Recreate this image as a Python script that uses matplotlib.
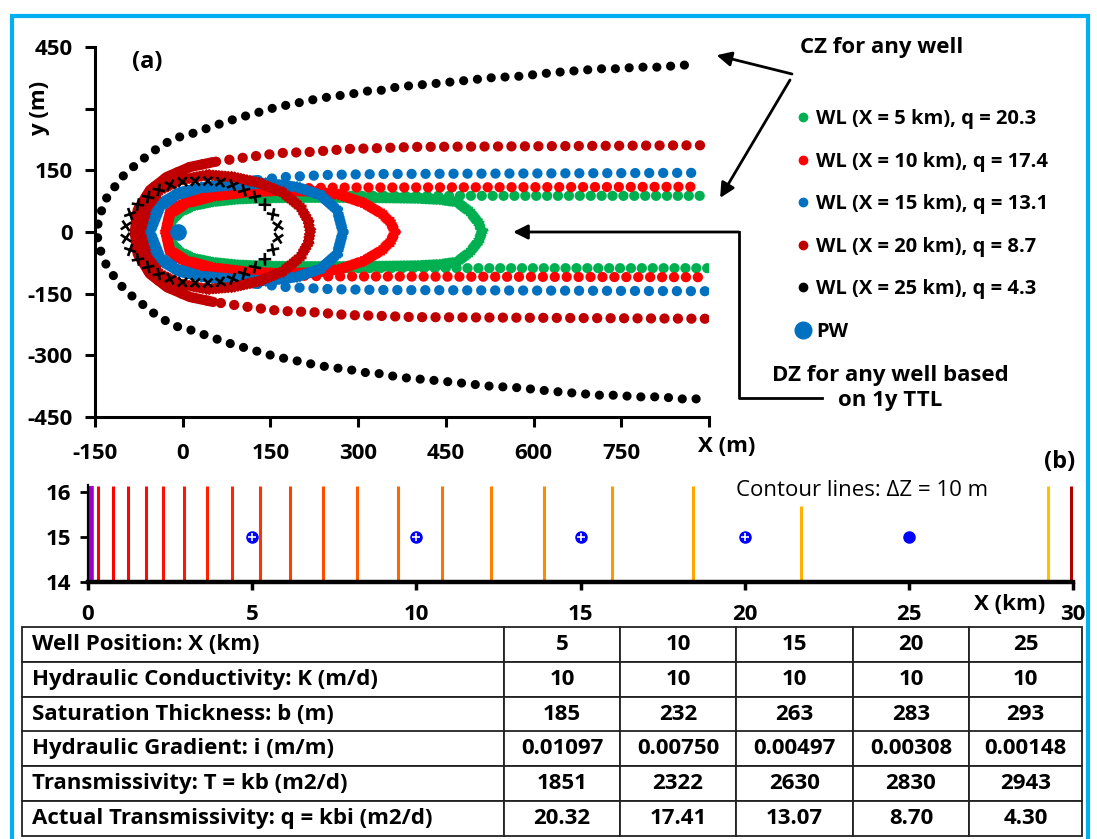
import numpy as np
import matplotlib
matplotlib.use('Agg')
import matplotlib.pyplot as plt
from matplotlib import patheffects
from matplotlib.lines import Line2D
from matplotlib.patches import Rectangle
from matplotlib.table import Table

plt.rcParams['font.family'] = ['Open Sans', 'DejaVu Sans']
plt.rcParams['font.weight'] = 'bold'

# ---------------- panel (a): capture zones, upper half (y >= 0)
labels_a = ['WL (X = 5 km), q = 20.3', 'WL (X = 10 km), q = 17.4', 'WL (X = 15 km), q = 13.1',
            'WL (X = 20 km), q = 8.7', 'WL (X = 25 km), q = 4.3']
colors = ['#00B050', '#FF0000', '#0070C0', '#C00000', '#000000']

cz5_x = [-27, -18, -5, 18, 52, 93, 137, 195, 897]
cz5_y = [0, 29, 49, 66, 75, 83, 85, 88, 88]
cz10_x = [-29, -22, -10, 7, 52, 110, 166, 250, 881]
cz10_y = [0, 46, 62, 73, 90, 100, 105, 108, 110]
cz15_x = [-56, -51, -34, -5, 35, 81, 127, 178, 252, 337, 893]
cz15_y = [0, 46, 73, 97, 109, 119, 126, 134, 139, 141, 144]
cz20_x = [-82, -77, -56, -27, 12, 52, 110, 166, 223, 281, 337, 394, 893]
cz20_y = [0, 53, 102, 134, 158, 170, 182, 192, 195, 202, 204, 207, 211]
cz25_x = [-147, -143, -136, -130, -121, -112, -102, -85, -73, -58, -42, -29, -13, 4, 24,
          47, 78, 107, 132, 161, 180, 197, 213, 238, 264, 290, 317, 343, 367, 423, 474,
          526, 577, 628, 671, 714, 739, 779, 803, 820, 849, 878]
cz25_y = [0, 37, 61, 83, 102, 117, 136, 158, 170, 190, 204, 216, 229, 234, 243,
          255, 270, 282, 292, 304, 309, 314, 319, 326, 331, 336, 343, 345, 353, 360, 367,
          375, 379, 387, 392, 397, 397, 401, 401, 401, 406, 406]

# 1-year travel time loops (DZ), upper half
tt5_x = [-27, -18, -5, 18, 52, 93, 137, 195, 300, 400, 440, 469, 491, 505, 512]
tt5_y = [0, 29, 48, 64, 74, 80, 83, 84, 84, 82, 79, 73, 49, 24, 0]
tt10_x = [-29, -22, 7, 52, 110, 166, 223, 270, 310, 340, 356, 363]
tt10_y = [0, 44, 70, 87, 97, 101, 99, 90, 70, 45, 22, 0]
tt15_x = [-56, -39, -10, 30, 81, 144, 196, 235, 264, 274]
tt15_y = [0, 61, 90, 107, 114, 119, 109, 90, 54, 0]
tt20_x = [-73, -61, -39, -5, 42, 86, 132, 172, 201, 214, 218]
tt20_y = [0, 61, 102, 126, 139, 134, 119, 95, 61, 29, 0]
tt25_x = [-99, -95, -85, -59, -34, -1, 26, 52, 76, 98, 119, 136, 149, 161, 165]
tt25_y = [0, 29, 58, 85, 109, 122, 124, 124, 119, 107, 90, 73, 54, 29, 0]

pw_x = [-8]
pw_y = [0]

cz_list = [(cz5_x, cz5_y), (cz10_x, cz10_y), (cz15_x, cz15_y), (cz20_x, cz20_y), (cz25_x, cz25_y)]
tt_list = [(tt5_x, tt5_y), (tt10_x, tt10_y), (tt15_x, tt15_y), (tt20_x, tt20_y), (tt25_x, tt25_y)]

# ---------------- panel (b): contour lines along the section
contour_km = [0.08, 0.30, 0.75, 1.21, 1.76, 2.29, 2.93, 3.63, 4.40, 5.23, 6.15, 7.15, 8.20,
              9.44, 10.78, 12.27, 13.9, 15.97, 18.44, 21.73, 29.24, 29.94]
contour_top = [16.13] * 19 + [15.68, 16.13, 16.13]
well_km = [5, 10, 15, 20, 25]
well_z = [15, 15, 15, 15, 15]

contour_colors = ['#9900CC', '#FF0000', '#FF0000', '#FF0500', '#FF0A00', '#FF1000', '#FF1800',
                  '#FF2000', '#FF2800', '#FF3300', '#FF4000', '#FF4D00', '#FF5A00', '#FF6600',
                  '#FF7300', '#FF8000', '#FF8C00', '#FF9900', '#FFA500', '#FFB300', '#FFC000',
                  '#B00000']
contour_lw = [4.0] + [2.2] * 21

# ---------------- table
row_labels = ['Well Position: X (km)', 'Hydraulic Conductivity: K (m/d)',
              'Saturation Thickness: b (m)', 'Hydraulic Gradient: i (m/m)',
              'Transmissivity: T = kb (m2/d)', 'Actual Transmissivity: q = kbi (m2/d)']
well_pos = ['5', '10', '15', '20', '25']
cond_k = ['10', '10', '10', '10', '10']
sat_b = ['185', '232', '263', '283', '293']
grad_i = ['0.01097', '0.00750', '0.00497', '0.00308', '0.00148']
trans_t = ['1851', '2322', '2630', '2830', '2943']
trans_q = ['20.32', '17.41', '13.07', '8.70', '4.30']

W, H = 1097, 839
fig = plt.figure(figsize=(W / 100, H / 100), dpi=100)

# ================= panel (a)
ax = fig.add_axes([95 / W, 1 - 417 / H, 614 / W, 370 / H])
ax.set_xlim(-150, 900)
ax.set_ylim(-450, 450)

dot_lw = [7.4, 7.4, 7.4, 7.4, 6.6]
dot_gap = [1.05, 1.15, 1.35, 1.3, 1.5]
dense_to = [200, 200, 150, 100, -1000]
tick_sp = [2.0, 2.0, 2.0, 2.2, 9.0]
tick_arm = [5.0, 5.0, 5.0, 5.0, 5.0]
tick_w = [2.2, 2.2, 2.2, 2.2, 1.9]

for i in range(5):
    cx = np.array(cz_list[i][0], float)
    cy = np.array(cz_list[i][1], float)
    xs = np.r_[cx[::-1], cx[1:]]
    ys = np.r_[-cy[::-1], cy[1:]]
    m = xs <= dense_to[i]
    if m.any():
        ax.plot(xs[m], ys[m], color=colors[i], lw=dot_lw[i], solid_capstyle='round', zorder=2 + i)
    ax.plot(xs, ys, color=colors[i], lw=dot_lw[i], ls=(0, (0.01, dot_gap[i])),
            dash_capstyle='round', zorder=2 + i)

    tx = np.array(tt_list[i][0], float)
    ty = np.array(tt_list[i][1], float)
    lx = np.r_[tx, tx[::-1][1:]]
    ly = np.r_[ty, -ty[::-1][1:]]
    ln = tick_arm[i] / (tick_sp[i] * 1.389)
    pe = [patheffects.TickedStroke(spacing=tick_sp[i], angle=a, length=ln, linewidth=tick_w[i])
          for a in (45, 135, -45, -135)]
    ax.plot(lx, ly, color=colors[i], lw=1.5, path_effects=pe, zorder=2.5 + i)

ax.plot(pw_x, pw_y, 'o', color='#0070C0', ms=11, zorder=10)

for s in ['top', 'right']:
    ax.spines[s].set_visible(False)
for s in ['left', 'bottom']:
    ax.spines[s].set_linewidth(2.2)
ax.set_xticks(np.arange(-150, 901, 150))
ax.set_xticklabels(['-150', '0', '150', '300', '450', '600', '750', ''])
ax.set_yticks(np.arange(-450, 451, 150))
ax.set_yticklabels(['-450', '-300', '-150', '0', '150', '', '450'])
ax.tick_params(direction='out', length=7, width=2.2, labelsize=16)
ax.tick_params(axis='x', pad=12)
ax.tick_params(axis='y', pad=9)

fig.text(40 / W, 1 - 108 / H, 'y (m)', rotation=90, ha='center', va='center', fontsize=16)
fig.text(727 / W, 1 - 447 / H, 'X (m)', ha='center', va='center', fontsize=16)
fig.text(147 / W, 1 - 62 / H, '(a)', ha='center', va='center', fontsize=17)

handles = [Line2D([], [], marker='o', ls='', color=c, ms=6) for c in colors]
handles.append(Line2D([], [], marker='o', ls='', color='#0070C0', ms=12))
fig.legend(handles, labels_a + ['PW'], loc='upper left', bbox_to_anchor=(781 / W, 1 - 99 / H),
           frameon=False, fontsize=14.5, labelspacing=1.12, handletextpad=0.05,
           handlelength=1.2, borderpad=0)

fig.text(882 / W, 1 - 48 / H, 'CZ for any well', ha='center', va='center', fontsize=16)
arr = dict(arrowstyle='-|>', color='black', lw=2, mutation_scale=22, shrinkA=0, shrinkB=0)
ax.annotate('', xy=(913, 430), xytext=(792 / W, 1 - 74 / H), textcoords='figure fraction',
            arrowprops=arr, annotation_clip=False)
ax.annotate('', xy=(919, 83), xytext=(790 / W, 1 - 80 / H), textcoords='figure fraction',
            arrowprops=arr, annotation_clip=False)
ax.annotate('', xy=(565, 0), xytext=(951, 0), arrowprops=arr, annotation_clip=False)
ax.plot([951, 951, 1093], [0, -404, -404], color='black', lw=2, clip_on=False)
fig.text(890 / W, 1 - 388 / H, 'DZ for any well based\non 1y TTL', ha='center', va='center',
         fontsize=16, linespacing=1.25)

# ================= panel (b)
axb = fig.add_axes([88 / W, 1 - 582 / H, 985 / W, 96.7 / H])
axb.set_xlim(0, 30)
axb.set_ylim(14, 16.15)
axb.vlines(contour_km, 14, contour_top, colors=contour_colors, lw=contour_lw, zorder=2)
axb.plot(well_km, well_z, 'o', color='#0000FF', ms=8, zorder=3)
axb.plot(well_km[:4], well_z[:4], '+', color='white', ms=6, mew=1.2, zorder=4)
for s in ['top', 'right']:
    axb.spines[s].set_visible(False)
axb.spines['left'].set_linewidth(1.6)
axb.spines['bottom'].set_linewidth(3.2)
axb.spines['bottom'].set_zorder(5)
axb.set_xticks([0, 5, 10, 15, 20, 25, 30])
axb.set_yticks([14, 15, 16])
axb.tick_params(direction='out', length=6, width=2.5, labelsize=16)
axb.tick_params(axis='x', pad=10)
axb.tick_params(axis='y', pad=6, width=2)
fig.text(1010 / W, 1 - 604 / H, 'X (km)', ha='center', va='center', fontsize=16)
fig.text(1060 / W, 1 - 462 / H, '(b)', ha='center', va='center', fontsize=17)
fig.text(862 / W, 1 - 490 / H, 'Contour lines: \u0394Z = 10 m', ha='center', va='center',
         fontsize=16, fontweight='normal')

# ================= table
tax = fig.add_axes([22 / W, 1 - 836 / H, 1060 / W, 209 / H])
tax.axis('off')
tbl = Table(tax, bbox=[0, 0, 1, 1])
col_w = np.array([482, 116, 116, 117, 116, 113], float)
col_w = col_w / col_w.sum()
rows = [well_pos, cond_k, sat_b, grad_i, trans_t, trans_q]
for r in range(6):
    c0 = tbl.add_cell(r, 0, col_w[0], 1 / 6, text=row_labels[r], loc='left')
    c0.PAD = 0.02
    for c in range(5):
        tbl.add_cell(r, c + 1, col_w[c + 1], 1 / 6, text=rows[r][c], loc='center')
tbl.auto_set_font_size(False)
tbl.set_fontsize(16)
for cell in tbl.get_celld().values():
    cell.set_linewidth(1.3)
    cell.set_edgecolor('#222222')
    cell.get_text().set_fontweight('bold')
tax.add_table(tbl)

# blue frame round the whole figure
fig.patches.append(Rectangle((12 / W, -0.02), 1076 / W, 1 - 16 / H + 0.02, transform=fig.transFigure,
                             fill=False, ec='#00B0F0', lw=3, zorder=0))

fig.savefig('out.png', dpi=100)
